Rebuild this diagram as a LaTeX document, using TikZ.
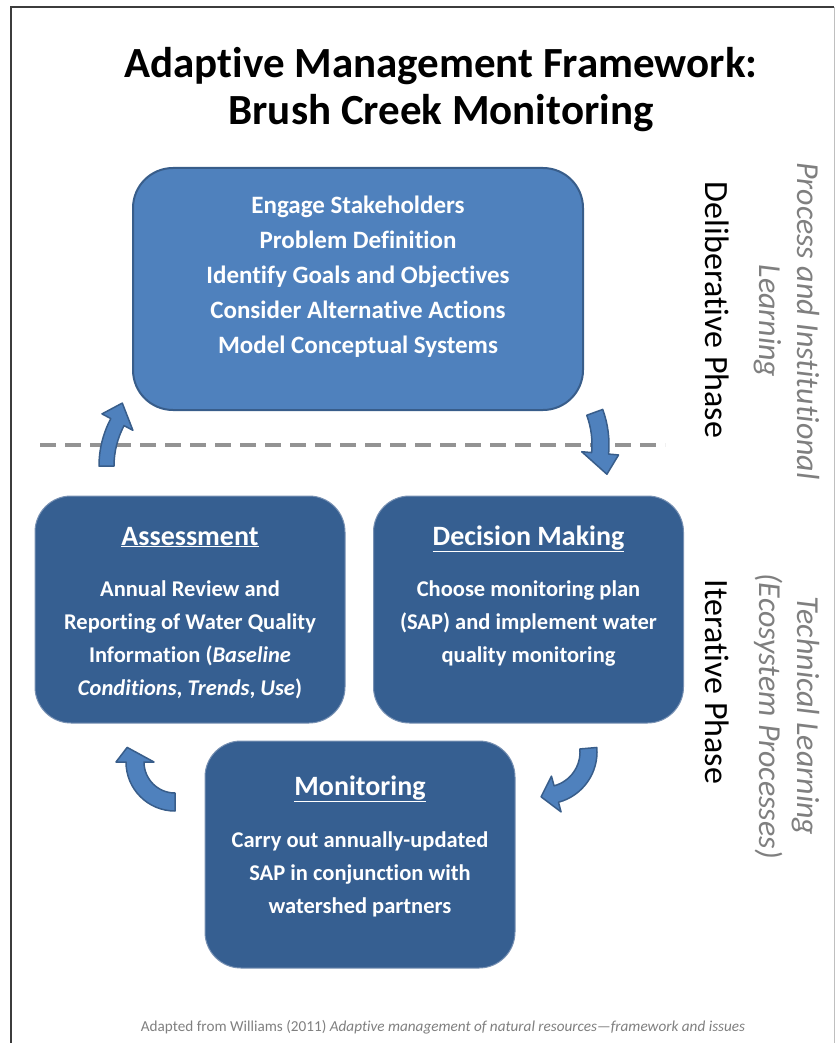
\documentclass[tikz,border=0pt]{standalone}
\usepackage{fontspec}
\setmainfont{Carlito}[Ligatures=NoCommon]
\usetikzlibrary{positioning}
\definecolor{lightblue}{HTML}{4F81BD}
\definecolor{darkblue}{HTML}{365F91}
\definecolor{edgeblue}{HTML}{385D8A}
\definecolor{boxedge}{HTML}{7891B3}
\definecolor{textgray}{HTML}{7F7F7F}
\definecolor{framedark}{HTML}{3C3C3C}
\tikzset{
  bigbox/.style={draw=edgeblue, line width=2pt, fill=lightblue, rounded corners=40pt, minimum width=450pt, minimum height=242pt},
  stepbox/.style={draw=boxedge, line width=1pt, fill=darkblue, rounded corners=36pt, minimum width=310pt, minimum height=227pt},
  boxtext/.style={text=white, font=\bfseries\fontsize{22.5}{33}\selectfont, align=center},
  boxtitle/.style={text=white, font=\bfseries\fontsize{28}{32}\selectfont, anchor=base},
  phase/.style={rotate=-90, font=\fontsize{34}{40}\selectfont},
  learning/.style={rotate=-90, text=textgray, font=\itshape\fontsize{32}{38}\selectfont, align=center},
  bentarrow/.style={fill=lightblue, draw=edgeblue, line width=1.5pt, line join=round},
  divider/.style={draw=gray!85, line width=4pt, dash pattern=on 16pt off 9pt},
}
\newcommand{\CArrow}[7]{\filldraw[bentarrow,shift={(#1)}] ({#2}:{#4}) arc[start angle=#2,end angle=#3,radius=#4] -- ({#3}:{#4-10}) -- ({#6}:{#7}) -- ({#3}:{#5+10}) -- ({#3}:{#5}) arc[start angle=#3,end angle=#2,radius=#5] -- cycle;}

\begin{document}
\begin{tikzpicture}[x=1pt,y=-1pt]
    \useasboundingbox (0,0) rectangle (835,1043);
    \draw[framedark, line width=2pt] (11,1043) -- (11,7) -- (834,7);
    \draw[gray!50, line width=1pt] (834,7) -- (834,1043);

    \node[font=\bfseries\fontsize{43}{47}\selectfont, align=center] (title) at (441,90) {Adaptive Management Framework:\\Brush Creek Monitoring};

    \node[bigbox] (plan) at (358,289) {};
    \node[boxtext, font=\bfseries\fontsize{25}{35}\selectfont] (plantext) at (358,277) {Engage Stakeholders\\Problem Definition\\Identify Goals and Objectives\\Consider Alternative Actions\\Model Conceptual Systems};

    \draw[divider] (40,445) -- (665,445);

    \node[stepbox] (assess) at (190,609.5) {};
    \node[boxtitle] (assesstitle) at (190,545) {\underline{Assessment}};
    \node[boxtext] (assesstext) at (190,640) {Annual Review and\\Reporting of Water Quality\\Information (\textit{Baseline}\\\textit{Conditions}, \textit{Trends}, \textit{Use})};

    \node[stepbox] (decide) at (528.5,609.5) {};
    \node[boxtitle] (decidetitle) at (528.5,545) {\underline{Decision Making}};
    \node[boxtext] (decidetext) at (528.5,624) {Choose monitoring plan\\(SAP) and implement water\\quality monitoring};

    \node[stepbox] (monitor) at (360,854.5) {};
    \node[boxtitle] (monitortitle) at (360,795) {\underline{Monitoring}};
    \node[boxtext] (monitortext) at (360,874) {Carry out annually-updated\\SAP in conjunction with\\watershed partners};

    \CArrow{200,466}{180}{208}{86}{101}{219}{100}
    \CArrow{505,445}{-20}{5}{87}{104}{16}{106}
    \CArrow{545,752}{-5}{75}{35}{52}{95}{45}
    \CArrow{175,762}{90}{180}{31}{49}{197}{50}

    \node[phase] (delib) at (717,310) {Deliberative Phase};
    \node[phase] (iter) at (717,682) {Iterative Phase};
    \node[learning] (process) at (787,321) {Process and Institutional\\Learning};
    \node[learning] (technical) at (787,716) {Technical Learning\\(Ecosystem Processes)};

    \node[font=\fontsize{15.2}{18}\selectfont, text=textgray] (source) at (443,1027) {Adapted from Williams (2011) \textit{Adaptive management of natural resources---framework and issues}};
\end{tikzpicture}
\end{document}
